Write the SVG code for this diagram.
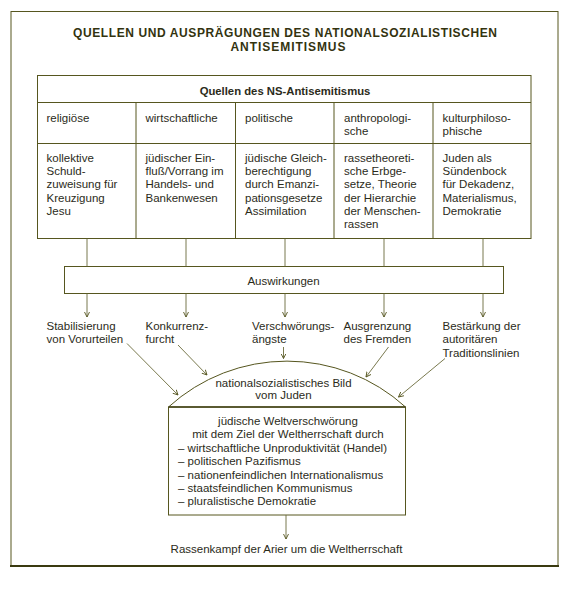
<svg xmlns="http://www.w3.org/2000/svg" width="570" height="595" viewBox="0 0 570 595">
<style>
text{font-family:"Liberation Sans",Arial,sans-serif;font-size:11.5px;fill:#2b2b1a}
.t{font-weight:bold;font-size:12px;fill:#33330f}
.h{font-weight:bold;font-size:11.3px}
.c{text-anchor:middle}
.ln{fill:none;stroke:#56561f;stroke-width:1}
.cn{fill:none;stroke:#6a6a3a;stroke-width:0.9}
.ar{marker-end:url(#ah)}
</style>
<defs>
<marker id="ah" markerUnits="userSpaceOnUse" markerWidth="7" markerHeight="7" refX="5" refY="3" orient="auto">
<path d="M0,0.5 L5,3 L0,5.5" fill="none" stroke="#56561f" stroke-width="0.9"/>
</marker>
</defs>
<rect width="570" height="595" fill="#fff"/>
<g id="frame">
<rect x="11" y="11.5" width="547" height="554.5" class="ln"/>
<line x1="10" y1="566" x2="559" y2="566" stroke="#3a3a10" stroke-width="2"/>
</g>
<g id="title">
<text class="t c" x="285" y="36.5" textLength="424" lengthAdjust="spacing">QUELLEN UND AUSPRÄGUNGEN DES NATIONALSOZIALISTISCHEN</text>
<text class="t c" x="288" y="50.5" textLength="115" lengthAdjust="spacing">ANTISEMITISMUS</text>
</g>
<g id="quellen">
<rect x="37.5" y="75.5" width="493.5" height="163" class="ln"/>
<line x1="37.5" y1="102.5" x2="531" y2="102.5" class="ln"/>
<line x1="37.5" y1="143.5" x2="531" y2="143.5" class="ln"/>
<line x1="136" y1="102.5" x2="136" y2="238.5" class="ln"/>
<line x1="235.5" y1="102.5" x2="235.5" y2="238.5" class="ln"/>
<line x1="334" y1="102.5" x2="334" y2="238.5" class="ln"/>
<line x1="433" y1="102.5" x2="433" y2="238.5" class="ln"/>
<text class="h c" x="285" y="95">Quellen des NS-Antisemitismus</text>
<g id="q-religioese">
<text x="46.5" y="121.7">religiöse</text>
<text x="46.5" y="161.7">kollektive</text>
<text x="46.5" y="175">Schuld-</text>
<text x="46.5" y="188.3">zuweisung für</text>
<text x="46.5" y="201.6">Kreuzigung</text>
<text x="46.5" y="214.9">Jesu</text>
</g>
<g id="q-wirtschaftliche">
<text x="145.5" y="121.7">wirtschaftliche</text>
<text x="145.5" y="161.7">jüdischer Ein-</text>
<text x="145.5" y="175">fluß/Vorrang im</text>
<text x="145.5" y="188.3">Handels- und</text>
<text x="145.5" y="201.6">Bankenwesen</text>
</g>
<g id="q-politische">
<text x="245" y="121.7">politische</text>
<text x="245" y="161.7">jüdische Gleich-</text>
<text x="245" y="175">berechtigung</text>
<text x="245" y="188.3">durch Emanzi-</text>
<text x="245" y="201.6">pationsgesetze</text>
<text x="245" y="214.9">Assimilation</text>
</g>
<g id="q-anthropologische">
<text x="344" y="121.7">anthropologi-</text>
<text x="344" y="135">sche</text>
<text x="344" y="161.7">rassetheoreti-</text>
<text x="344" y="175">sche Erbge-</text>
<text x="344" y="188.3">setze, Theorie</text>
<text x="344" y="201.6">der Hierarchie</text>
<text x="344" y="214.9">der Menschen-</text>
<text x="344" y="228.2">rassen</text>
</g>
<g id="q-kulturphilosophische">
<text x="442.5" y="121.7">kulturphiloso-</text>
<text x="442.5" y="135">phische</text>
<text x="442.5" y="161.7">Juden als</text>
<text x="442.5" y="175">Sündenbock</text>
<text x="442.5" y="188.3">für Dekadenz,</text>
<text x="442.5" y="201.6">Materialismus,</text>
<text x="442.5" y="214.9">Demokratie</text>
</g>
</g>
<g id="auswirkungen">
<rect x="64.5" y="266.5" width="439" height="27" class="ln"/>
<text class="c" x="283.5" y="285">Auswirkungen</text>
</g>
<g id="e-stabilisierung">
<text x="46.5" y="330">Stabilisierung</text>
<text x="46.5" y="343.3">von Vorurteilen</text>
</g>
<g id="e-konkurrenz">
<text x="145.5" y="330">Konkurrenz-</text>
<text x="145.5" y="343.3">furcht</text>
</g>
<g id="e-verschwoerung">
<text x="252" y="330">Verschwörungs-</text>
<text x="252" y="343.3">ängste</text>
</g>
<g id="e-ausgrenzung">
<text x="343.5" y="330">Ausgrenzung</text>
<text x="343.5" y="343.3">des Fremden</text>
</g>
<g id="e-bestaerkung">
<text x="442.5" y="330">Bestärkung der</text>
<text x="442.5" y="343.3">autoritären</text>
<text x="442.5" y="356.6">Traditionslinien</text>
</g>
<g id="bild">
<path d="M168.5,407 A176,176 0 0 1 405.5,407" class="ln"/>
<rect x="168.5" y="407" width="237" height="108" class="ln"/>
<line x1="168.5" y1="407" x2="405.5" y2="407" stroke="#3f3f12" stroke-width="1.3"/>
<text class="c" x="283.5" y="387">nationalsozialistisches Bild</text>
<text class="c" x="283.5" y="399.3">vom Juden</text>
<text class="c" x="288" y="425">jüdische Weltverschwörung</text>
<text class="c" x="288" y="438.4">mit dem Ziel der Weltherrschaft durch</text>
<text x="178" y="451.8">– wirtschaftliche Unproduktivität (Handel)</text>
<text x="178" y="465.2">– politischen Pazifismus</text>
<text x="178" y="478.6">– nationenfeindlichen Internationalismus</text>
<text x="178" y="492">– staatsfeindlichen Kommunismus</text>
<text x="178" y="505.4">– pluralistische Demokratie</text>
</g>
<g id="rassenkampf">
<text class="c" x="286.5" y="553">Rassenkampf der Arier um die Weltherrschaft</text>
</g>
<g id="connectors">
<line x1="87" y1="238.5" x2="87" y2="266.5" class="cn"/>
<line x1="186" y1="238.5" x2="186" y2="266.5" class="cn"/>
<line x1="285" y1="238.5" x2="285" y2="266.5" class="cn"/>
<line x1="384" y1="238.5" x2="384" y2="266.5" class="cn"/>
<line x1="483" y1="238.5" x2="483" y2="266.5" class="cn"/>
<line x1="87" y1="293.5" x2="87" y2="317" class="cn ar"/>
<line x1="186" y1="293.5" x2="186" y2="317" class="cn ar"/>
<line x1="285" y1="293.5" x2="285" y2="317" class="cn ar"/>
<line x1="384" y1="293.5" x2="384" y2="317" class="cn ar"/>
<line x1="483" y1="293.5" x2="483" y2="317" class="cn ar"/>
<line x1="283.5" y1="347" x2="283.5" y2="358.5" class="cn ar"/>
<line x1="127" y1="343.5" x2="178" y2="395" class="cn ar"/>
<line x1="178" y1="345" x2="207" y2="375" class="cn ar"/>
<line x1="388.5" y1="347" x2="366" y2="377" class="cn ar"/>
<line x1="445" y1="358.5" x2="398.5" y2="397" class="cn ar"/>
<line x1="286" y1="515" x2="286" y2="539" class="cn ar"/>
</g>
</svg>
